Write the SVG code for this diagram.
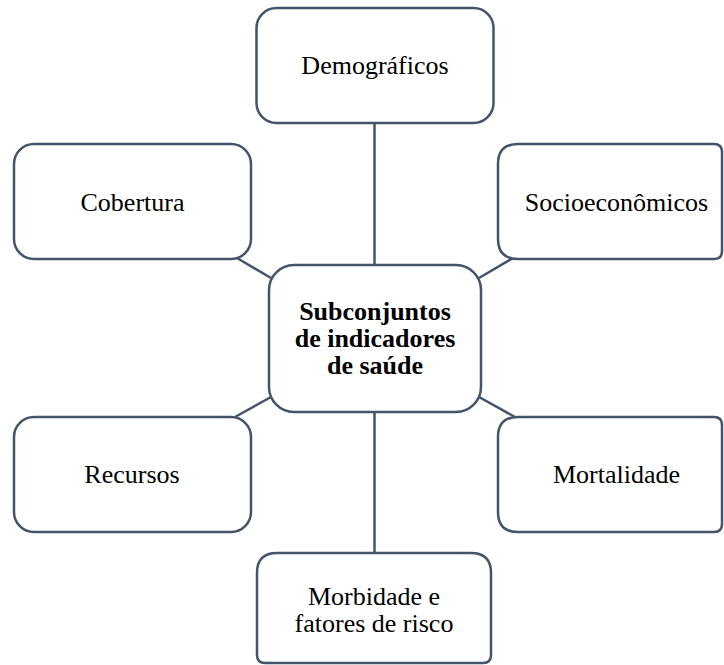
<svg xmlns="http://www.w3.org/2000/svg" width="724" height="665" viewBox="0 0 724 665">
  <style>
    .box { fill: #ffffff; stroke: #44546A; stroke-width: 2.5; }
    .link { stroke: #44546A; stroke-width: 2.5; fill: none; }
    .lbl { font-family: "Liberation Serif", "Times New Roman", serif; font-size: 26px; fill: #000000; text-anchor: middle; }
    .hub { font-weight: bold; }
  </style>
  <rect width="724" height="665" fill="#ffffff"/>

  <!-- spokes from the hub to each category -->
  <g id="connectors">
    <line class="link" x1="374.5" y1="123" x2="374.5" y2="265"/>
    <line class="link" x1="374.5" y1="412" x2="374.5" y2="553"/>
    <line class="link" x1="237" y1="258" x2="271" y2="278"/>
    <line class="link" x1="513" y1="258" x2="479" y2="278"/>
    <line class="link" x1="235" y1="417" x2="271" y2="397"/>
    <line class="link" x1="515" y1="417" x2="479" y2="397"/>
  </g>

  <g id="hub">
    <rect class="box" x="269" y="265" width="212" height="147" rx="25"/>
    <text class="lbl hub" x="375" y="320">Subconjuntos</text>
    <text class="lbl hub" x="375" y="347">de indicadores</text>
    <text class="lbl hub" x="375" y="374">de saúde</text>
  </g>

  <g id="demograficos">
    <rect class="box" x="256.5" y="8" width="237" height="115" rx="20"/>
    <text class="lbl" x="375" y="74">Demográficos</text>
  </g>

  <g id="cobertura">
    <rect class="box" x="14" y="144" width="237" height="115" rx="20"/>
    <text class="lbl" x="132.5" y="211">Cobertura</text>
  </g>

  <g id="socioeconomicos">
    <path class="box" d="M518 144 H714 Q722 144 722 152 V251 Q722 259 714 259 H518 Q498 259 498 239 V164 Q498 144 518 144 Z"/>
    <text class="lbl" x="616.5" y="211">Socioeconômicos</text>
  </g>

  <g id="recursos">
    <rect class="box" x="14" y="417" width="237" height="115" rx="20"/>
    <text class="lbl" x="132" y="483">Recursos</text>
  </g>

  <g id="mortalidade">
    <path class="box" d="M518 417 H714 Q722 417 722 425 V524 Q722 532 714 532 H518 Q498 532 498 512 V437 Q498 417 518 417 Z"/>
    <text class="lbl" x="616.5" y="483">Mortalidade</text>
  </g>

  <g id="morbidade">
    <path class="box" d="M277 553 H471 Q491 553 491 573 V655 Q491 663 483 663 H265 Q257 663 257 655 V573 Q257 553 277 553 Z"/>
    <text class="lbl" x="374" y="605">Morbidade e</text>
    <text class="lbl" x="374" y="632">fatores de risco</text>
  </g>
</svg>
